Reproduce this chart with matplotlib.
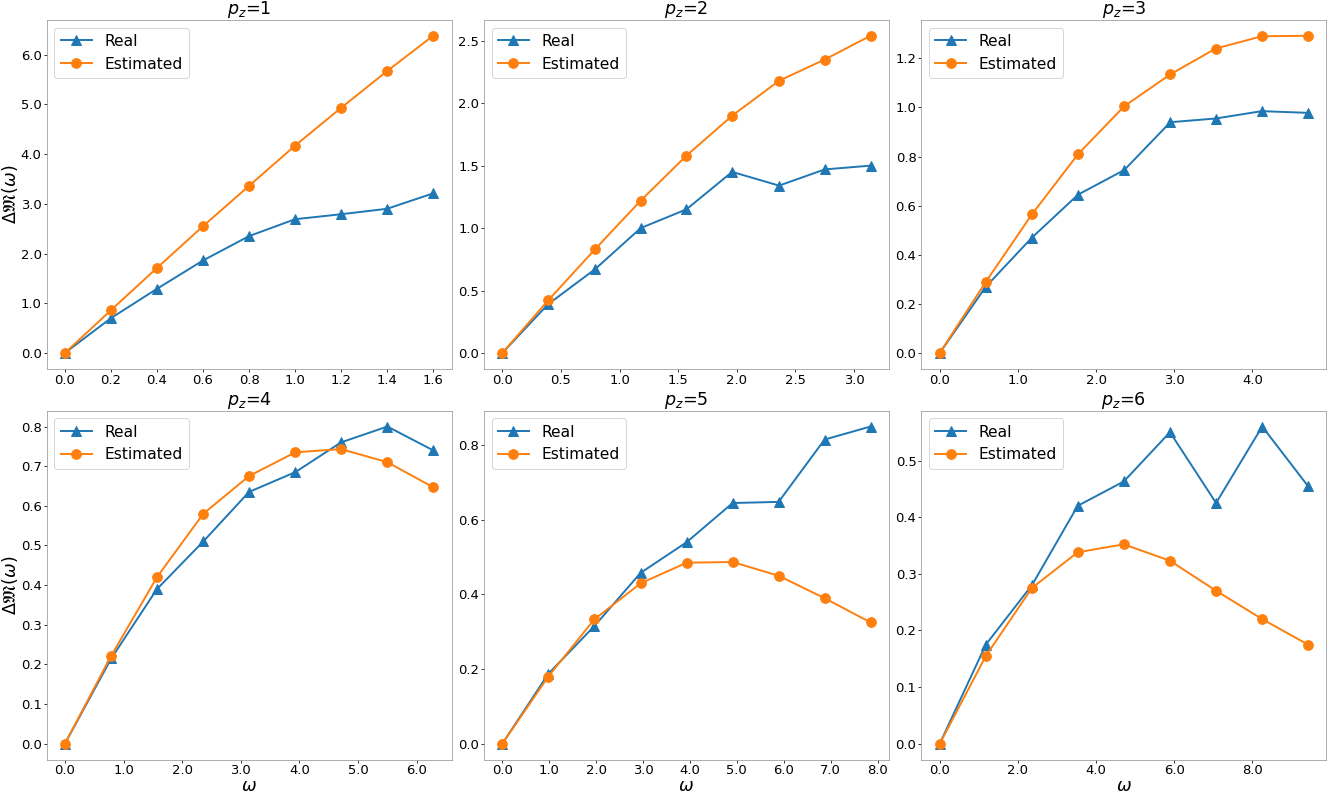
import matplotlib
matplotlib.use('Agg')
import matplotlib.pyplot as plt
from matplotlib.ticker import FormatStrFormatter

# valeurs
pz_values = [1, 2, 3, 4, 5, 6]

omega = [
    [0.0, 0.2, 0.4, 0.6, 0.8, 1.0, 1.2, 1.4, 1.6],
    [0.0, 0.39, 0.79, 1.18, 1.57, 1.96, 2.36, 2.75, 3.14],
    [0.0, 0.59, 1.18, 1.77, 2.36, 2.95, 3.53, 4.12, 4.71],
    [0.0, 0.79, 1.57, 2.36, 3.14, 3.93, 4.71, 5.50, 6.28],
    [0.0, 0.98, 1.96, 2.95, 3.93, 4.91, 5.89, 6.87, 7.85],
    [0.0, 1.18, 2.36, 3.53, 4.71, 5.89, 7.07, 8.25, 9.42],
]

real = [
    [0.0, 0.70, 1.29, 1.86, 2.35, 2.69, 2.79, 2.90, 3.21],
    [0.0, 0.39, 0.67, 1.00, 1.15, 1.45, 1.34, 1.47, 1.50],
    [0.0, 0.27, 0.47, 0.645, 0.745, 0.94, 0.955, 0.985, 0.978],
    [0.0, 0.215, 0.39, 0.51, 0.635, 0.685, 0.76, 0.80, 0.74],
    [0.0, 0.187, 0.315, 0.458, 0.54, 0.645, 0.648, 0.815, 0.85],
    [0.0, 0.175, 0.28, 0.42, 0.463, 0.55, 0.425, 0.56, 0.455],
]

estimated = [
    [0.0, 0.86, 1.71, 2.55, 3.36, 4.17, 4.93, 5.67, 6.38],
    [0.0, 0.42, 0.83, 1.22, 1.58, 1.90, 2.18, 2.35, 2.54],
    [0.0, 0.29, 0.565, 0.81, 1.005, 1.135, 1.24, 1.29, 1.292],
    [0.0, 0.222, 0.42, 0.58, 0.675, 0.735, 0.743, 0.71, 0.647],
    [0.0, 0.18, 0.333, 0.43, 0.485, 0.487, 0.45, 0.39, 0.325],
    [0.0, 0.155, 0.275, 0.338, 0.352, 0.323, 0.27, 0.22, 0.175],
]

fig, axes = plt.subplots(2, 3, figsize=(13.29 / 0.7, 7.97 / 0.7), dpi=70)
plt.subplots_adjust(left=0.035, right=0.998, top=0.975, bottom=0.047,
                    wspace=0.08, hspace=0.12)

for i, ax in enumerate(axes.flat):
    ax.plot(omega[i], real[i], marker='^', markersize=10, linewidth=2, label='Real')
    ax.plot(omega[i], estimated[i], marker='o', markersize=10, linewidth=2, label='Estimated')
    ax.set_title(r'$p_z$=%d' % pz_values[i], fontsize=18, pad=1)
    ax.tick_params(labelsize=13.5, pad=1.5)
    ax.xaxis.set_major_formatter(FormatStrFormatter('%.1f'))
    ax.yaxis.set_major_formatter(FormatStrFormatter('%.1f'))
    for s in ax.spines.values():
        s.set_color('#999999')
    ax.legend(loc='upper left', fontsize=16)
    if i % 3 == 0:
        ax.set_ylabel(r'$\Delta\mathfrak{M}(\omega)$', fontsize=18, labelpad=1)
    if i >= 3:
        ax.set_xlabel(r'$\omega$', fontsize=18, labelpad=0)

plt.savefig('out.png')
